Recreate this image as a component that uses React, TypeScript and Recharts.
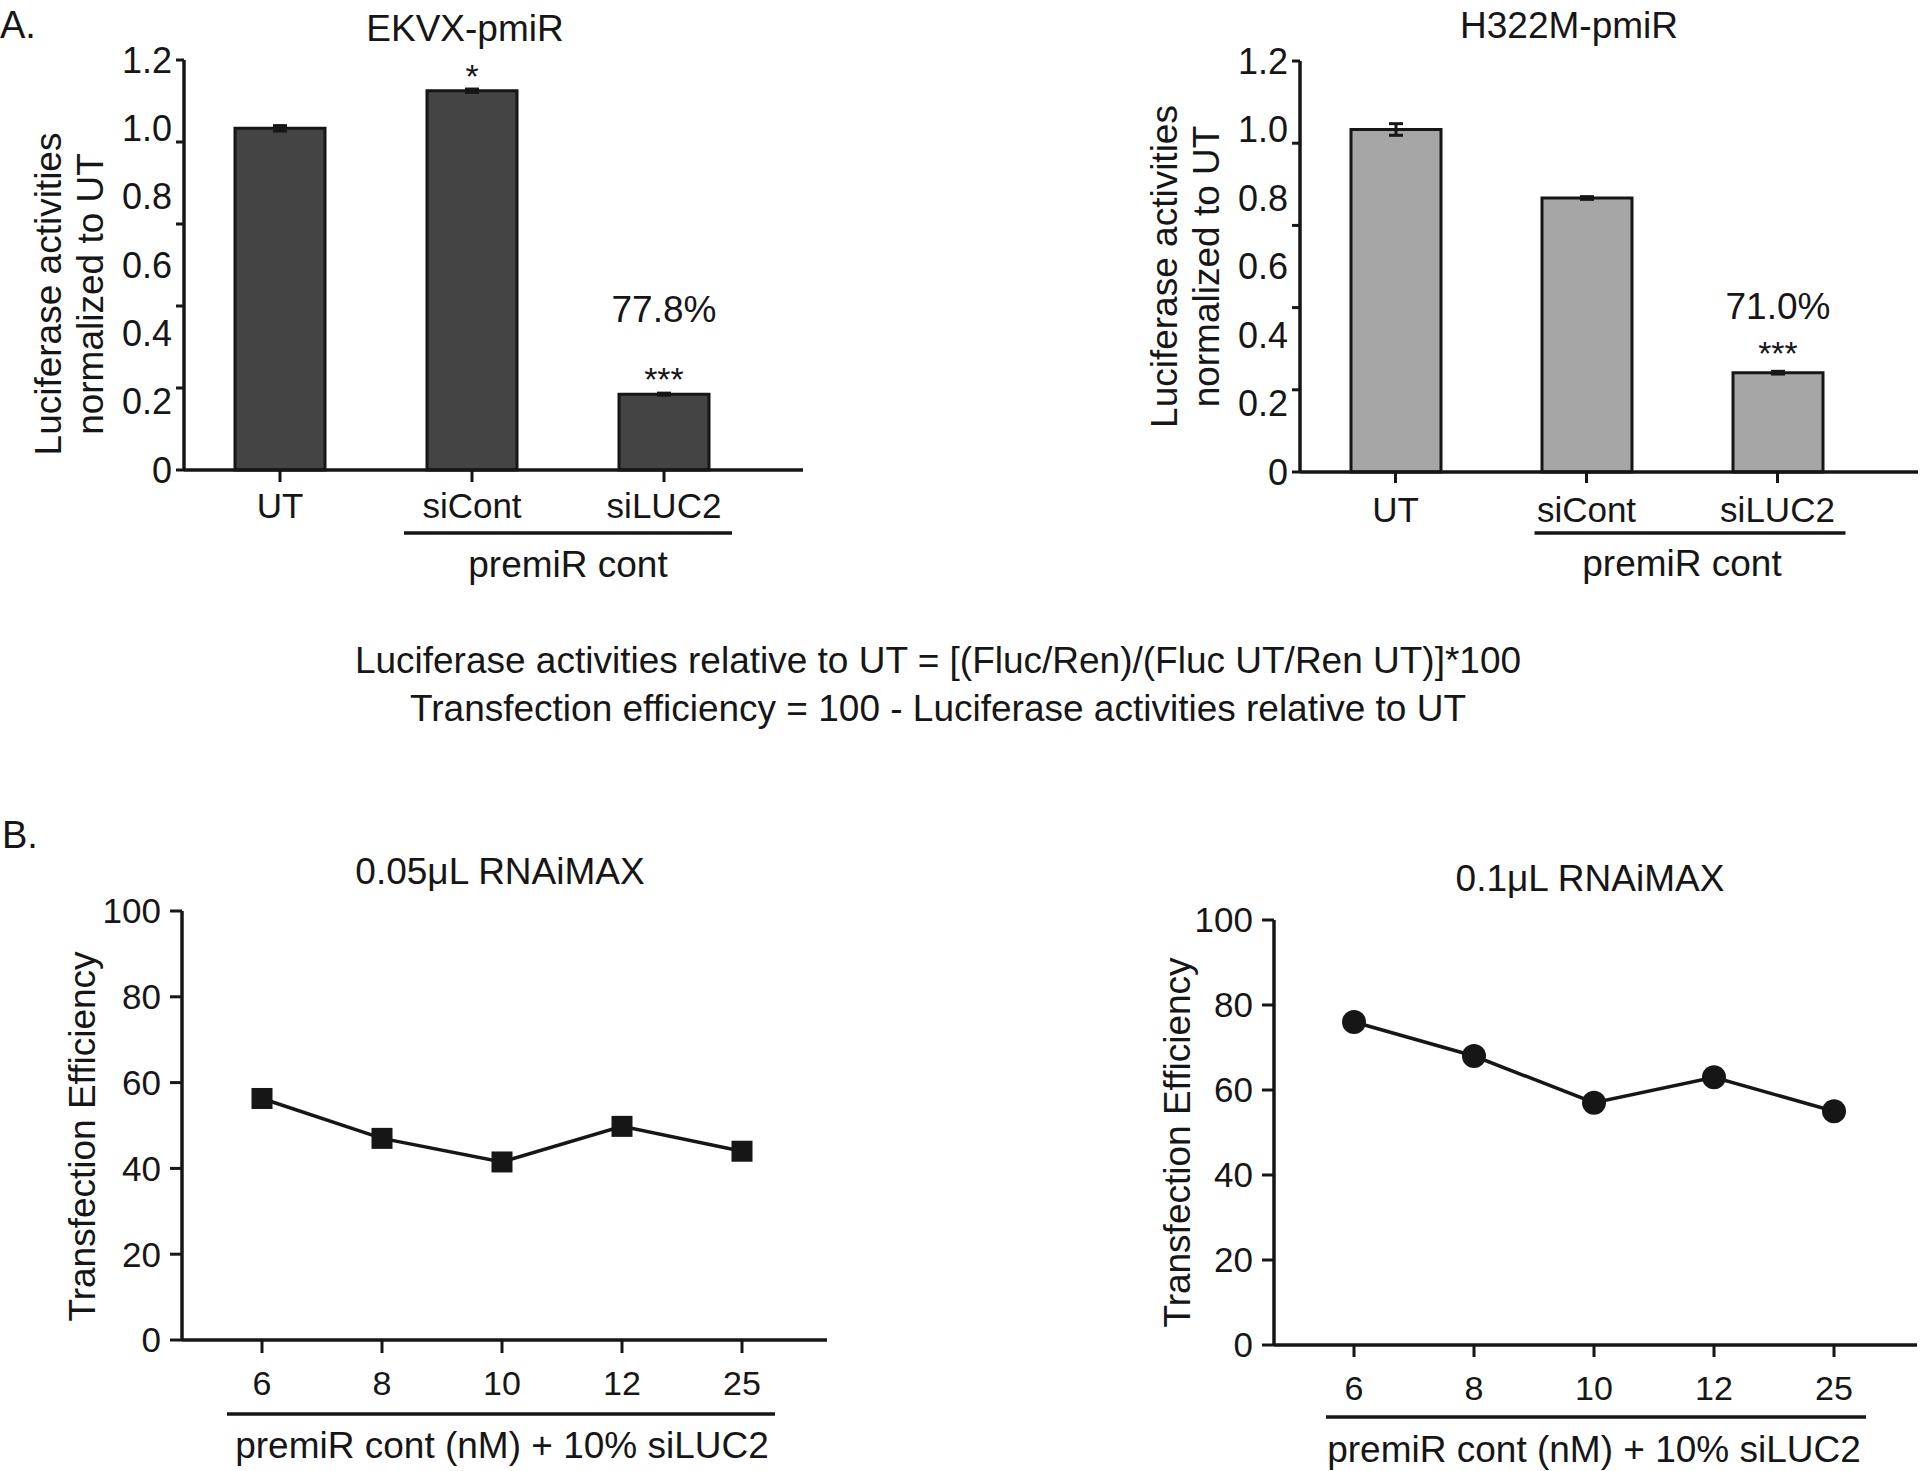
import React from 'react'
import { BarChart, Bar, XAxis, YAxis, ErrorBar, LabelList, LineChart, Line } from 'recharts'

const FONT = '"Liberation Sans", Arial, Helvetica, sans-serif'
const INK = '#161616'

// A. luciferase bars
const barCats = ['UT', 'siCont', 'siLUC2']
const ekvxValues = [1.0, 1.11, 0.222]
const ekvxErrors = [0.008, 0.005, 0.003]
const ekvxStars = ['', '*', '***']
const ekvxPct = ['', '', '77.8%']
const h322mValues = [1.0, 0.8, 0.29]
const h322mErrors = [0.017, 0.004, 0.004]
const h322mStars = ['', '', '***']
const h322mPct = ['', '', '71.0%']
// the original prints labels every 0.2 but its tick marks sit every 0.24
const barLabelTicks = [0, 0.2, 0.4, 0.6, 0.8, 1.0, 1.2]
const barMarkTicks = [0, 0.24, 0.48, 0.72, 0.96, 1.2]

// B. transfection efficiency
const concCats = ['6', '8', '10', '12', '25']
const eff005 = [56.3, 47, 41.5, 49.8, 44]
const eff01 = [76, 68, 57, 63, 55]
const effTicks = [0, 20, 40, 60, 80, 100]

const barAllTicks = Array.from(new Set([...barLabelTicks, ...barMarkTicks])).sort((a, b) => a - b)
const near = (list: number[], v: number) => list.some((t) => Math.abs(t - v) < 1e-6)

function BarYTick(props: any) {
  const { x, y, payload } = props
  const v = payload.value
  return (
    <g>
      {near(barMarkTicks, v) && <line x1={x - 8} x2={x} y1={y} y2={y} stroke={INK} strokeWidth={3} />}
      {near(barLabelTicks, v) && (
        <text x={x - 12} y={y} dy="0.355em" textAnchor="end" fontSize={36} fill={INK} fontFamily={FONT}>
          {v === 0 ? '0' : v.toFixed(1)}
        </text>
      )}
    </g>
  )
}

function GroupTick(props: any) {
  const { x, y, payload, index, groupFrom, count, step, extL, extR, labelDy, lineDy, groupDy, groupLabel, fontSize } = props
  const last = index === count - 1
  let bracket = null
  let glabel = null
  if (index >= groupFrom) {
    const x1 = index === groupFrom ? x - extL : x - step / 2
    const x2 = last ? x + extR : x + step / 2
    bracket = <line x1={x1} x2={x2} y1={y + lineDy} y2={y + lineDy} stroke={INK} strokeWidth={3.5} />
    if (last) {
      const mid = x - (step * (count - 1 - groupFrom)) / 2
      glabel = (
        <text x={mid} y={y + groupDy} textAnchor="middle" fontSize={37} fill={INK} fontFamily={FONT}>
          {groupLabel}
        </text>
      )
    }
  }
  return (
    <g>
      <text x={x} y={y + labelDy} textAnchor="middle" fontSize={fontSize} fill={INK} fontFamily={FONT}>
        {payload.value}
      </text>
      {bracket}
      {glabel}
    </g>
  )
}

function YTitle({ viewBox, lines, dxs, dy }: any) {
  const plotLeft = viewBox.x + viewBox.width
  const cy = viewBox.y + viewBox.height / 2 + dy
  return (
    <g>
      {lines.map((t: string, i: number) => {
        const x = plotLeft + dxs[i]
        return (
          <text key={i} x={x} y={cy} transform={`rotate(-90 ${x} ${cy})`} textAnchor="middle" fontSize={37} fill={INK} fontFamily={FONT}>
            {t}
          </text>
        )
      })}
    </g>
  )
}

const textLabel = (base: number, size: number) => (p: any) => {
  if (!p.value) return null
  const cx = Number(p.x) + Number(p.width) / 2
  return (
    <text x={cx} y={Number(p.y) - base} textAnchor="middle" fontSize={size} fill={INK} fontFamily={FONT}>
      {p.value}
    </text>
  )
}

function BarPanel(props: any) {
  const { left, values, errors, stars, pct, fill, margin, pad, tickSize, labelDy, lineDy, groupDy, extL, extR, step, starBase, pctBase, titleDy } = props
  const data = barCats.map((cat, i) => ({ cat, value: values[i], err: errors[i], star: stars[i], pct: pct[i] }))
  return (
    <div style={{ position: 'absolute', left, top: 0 }}>
      <BarChart width={960} height={640} data={data} margin={margin}>
        <YAxis
          type="number"
          domain={[0, 1.2]}
          ticks={barAllTicks}
          interval={0}
          width={80}
          tickSize={0}
          tickMargin={0}
          tickLine={false}
          axisLine={{ stroke: INK, strokeWidth: 3.5 }}
          tick={<BarYTick />}
          label={(p: any) => (
            <YTitle viewBox={p.viewBox} lines={['Luciferase activities', 'normalized to UT']} dxs={[-123, -81]} dy={titleDy} />
          )}
        />
        <XAxis
          dataKey="cat"
          height={60}
          padding={pad}
          interval={0}
          tickSize={tickSize}
          tickMargin={0}
          axisLine={{ stroke: INK, strokeWidth: 3.5 }}
          tickLine={{ stroke: INK, strokeWidth: 3 }}
          tick={
            <GroupTick groupFrom={1} count={3} step={step} extL={extL} extR={extR} labelDy={labelDy} lineDy={lineDy} groupDy={groupDy} groupLabel="premiR cont" fontSize={35} />
          }
        />
        <Bar dataKey="value" fill={fill} stroke={INK} strokeWidth={3} barSize={90} isAnimationActive={false}>
          <ErrorBar dataKey="err" width={7} strokeWidth={3} stroke={INK} direction="y" />
          <LabelList dataKey="star" content={textLabel(starBase, 34)} />
          <LabelList dataKey="pct" content={textLabel(pctBase, 37)} />
        </Bar>
      </BarChart>
    </div>
  )
}

function LinePanel(props: any) {
  const { left, top, values, margin, pad, square, tickSize, labelDy, lineDy, groupDy, extL, extR, titleDx, titleDy } = props
  const data = concCats.map((conc, i) => ({ conc, eff: values[i] }))
  const dot = square
    ? (p: any) => <rect key={`d${p.index}`} x={p.cx - 10.5} y={p.cy - 10.5} width={21} height={21} fill={INK} />
    : { r: 12, fill: INK, stroke: 'none' }
  return (
    <div style={{ position: 'absolute', left, top }}>
      <LineChart width={960} height={691} data={data} margin={margin}>
        <XAxis
          dataKey="conc"
          scale="point"
          height={60}
          padding={pad}
          interval={0}
          tickSize={tickSize}
          tickMargin={0}
          axisLine={{ stroke: INK, strokeWidth: 3.5 }}
          tickLine={{ stroke: INK, strokeWidth: 3 }}
          tick={
            <GroupTick groupFrom={0} count={5} step={120} extL={extL} extR={extR} labelDy={labelDy} lineDy={lineDy} groupDy={groupDy} groupLabel="premiR cont (nM) + 10% siLUC2" fontSize={34} />
          }
        />
        <YAxis
          type="number"
          domain={[0, 100]}
          ticks={effTicks}
          interval={0}
          width={80}
          tickSize={12}
          tickMargin={9}
          axisLine={{ stroke: INK, strokeWidth: 3.5 }}
          tickLine={{ stroke: INK, strokeWidth: 3 }}
          tick={{ fontSize: 35, fill: INK, fontFamily: FONT }}
          label={(p: any) => <YTitle viewBox={p.viewBox} lines={['Transfection  Efficiency']} dxs={[titleDx]} dy={titleDy} />}
        />
        <Line dataKey="eff" stroke={INK} strokeWidth={3.5} dot={dot as any} activeDot={false} isAnimationActive={false} />
      </LineChart>
    </div>
  )
}

export default function App() {
  const txt = { fontFamily: FONT, fill: INK } as const
  return (
    <div style={{ position: 'relative', width: 1920, height: 1471, background: '#fff', overflow: 'hidden' }}>
      <style>{'body{margin:0}'}</style>
      <BarPanel
        left={0}
        values={ekvxValues}
        errors={ekvxErrors}
        stars={ekvxStars}
        pct={ekvxPct}
        fill="#444444"
        margin={{ top: 60, right: 157, left: 104, bottom: 110 }}
        pad={{ left: 0, right: 43 }}
        tickSize={12}
        labelDy={36}
        lineDy={51}
        groupDy={95}
        extL={68}
        extR={68}
        step={192}
        starBase={3}
        pctBase={72}
        titleDy={29}
      />
      <BarPanel
        left={960}
        values={h322mValues}
        errors={h322mErrors}
        stars={h322mStars}
        pct={h322mPct}
        fill="#a6a6a6"
        margin={{ top: 61, right: 2, left: 260, bottom: 108 }}
        pad={{ left: 0, right: 45 }}
        tickSize={11}
        labelDy={39}
        lineDy={50}
        groupDy={93}
        extL={52}
        extR={68}
        step={191}
        starBase={8}
        pctBase={54}
        titleDy={0}
      />
      <LinePanel
        left={0}
        top={780}
        values={eff005}
        square
        margin={{ top: 131, right: 133, left: 102, bottom: 71 }}
        pad={{ left: 80, right: 85 }}
        tickSize={13}
        labelDy={42}
        lineDy={61}
        groupDy={105}
        extL={35}
        extR={33}
        titleDx={-87}
        titleDy={11}
      />
      <LinePanel
        left={960}
        top={780}
        values={eff01}
        square={false}
        margin={{ top: 140, right: 3, left: 234, bottom: 66 }}
        pad={{ left: 80, right: 83 }}
        tickSize={12}
        labelDy={43}
        lineDy={60}
        groupDy={105}
        extL={28}
        extR={32}
        titleDx={-84}
        titleDy={10}
      />
      <svg width={1920} height={1471} style={{ position: 'absolute', left: 0, top: 0, pointerEvents: 'none' }}>
        <text x={0} y={38} fontSize={38} {...txt}>A.</text>
        <text x={465} y={41} fontSize={37} textAnchor="middle" {...txt}>EKVX-pmiR</text>
        <text x={1569} y={38} fontSize={37} textAnchor="middle" {...txt}>H322M-pmiR</text>
        <text x={938} y={673} fontSize={37} textAnchor="middle" {...txt}>
          Luciferase activities relative to UT = [(Fluc/Ren)/(Fluc UT/Ren UT)]*100
        </text>
        <text x={938} y={721} fontSize={37} textAnchor="middle" {...txt}>
          Transfection efficiency = 100 - Luciferase activities relative to UT
        </text>
        <text x={2} y={848} fontSize={38} {...txt}>B.</text>
        <text x={500} y={884} fontSize={37} textAnchor="middle" {...txt}>0.05μL RNAiMAX</text>
        <text x={1590} y={891} fontSize={37} textAnchor="middle" {...txt}>0.1μL RNAiMAX</text>
      </svg>
    </div>
  )
}
